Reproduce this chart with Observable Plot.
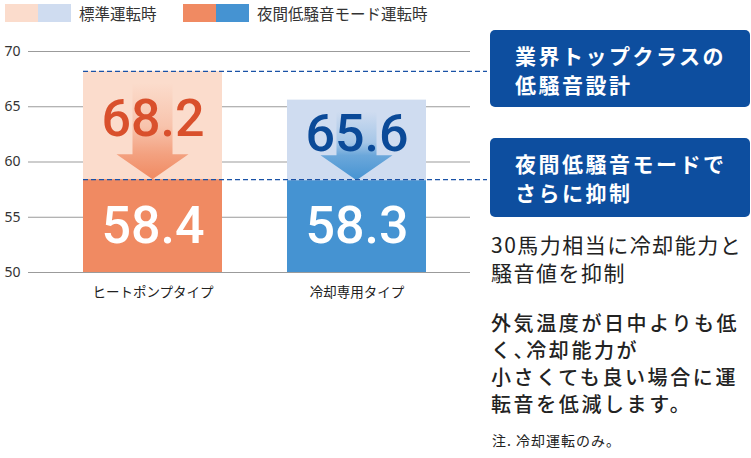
<!DOCTYPE html>
<html><head><meta charset="utf-8">
<script src="https://cdn.jsdelivr.net/npm/d3@7"></script>
<script src="https://cdn.jsdelivr.net/npm/@observablehq/plot@0.6"></script>
<style>
body{margin:0;background:#fff;}
#wrap{position:relative;width:751px;height:458px;overflow:hidden;font-family:"Noto Sans CJK JP",sans-serif;color:#222;}
#chart{position:absolute;left:0;top:0;}
.leg{position:absolute;top:4px;height:18px;display:flex;align-items:center;font-size:15.5px;color:#333;white-space:nowrap;}
.sw{width:33px;height:18px;display:inline-block;}
.lt{margin-left:8px;line-height:18px;}
.box{position:absolute;left:490px;width:260px;background:#0d4e9f;border-radius:5px;color:#fff;font-weight:700;font-size:21px;letter-spacing:2.5px;line-height:28.8px;padding-left:25px;padding-top:11px;box-sizing:border-box;}
.txt{position:absolute;left:491px;font-size:21px;letter-spacing:1.5px;white-space:nowrap;color:#222;}
</style>
</head><body>
<div id="wrap">
  <div id="chart"></div>
  <div class="leg" id="leg1" style="left:5px"></div>
  <div class="leg" id="leg2" style="left:183px"></div>
  <div class="box" id="box1" style="top:30px;height:77px"></div>
  <div class="box" id="box2" style="top:138px;height:79px"></div>
  <div class="txt" id="t1" style="top:230px;line-height:28px"></div>
  <div class="txt" id="t2" style="top:309px;line-height:27px;font-size:20px;letter-spacing:2.6px;font-weight:500"></div>
  <div class="txt" id="t3" style="top:430px;left:492px;font-size:14px;letter-spacing:1px;line-height:20px"></div>
</div>
<script>
// ---- data ----
const categories = ["ヒートポンプタイプ", "冷却専用タイプ"];
const standardValues = [68.2, 65.6];
const nightValues = [58.4, 58.3];
const yTicks = [50, 55, 60, 65, 70];
const yDomain = [50, 70];
const legendLabels = ["標準運転時", "夜間低騒音モード運転時"];
const lightColors = ["#fbdccc", "#cfdcf0"];
const darkColors = ["#f08a62", "#4593d2"];
const labelColors = ["#d9502c", "#0b4a98"];
const box1Lines = ["業界トップクラスの", "低騒音設計"];
const box2Lines = ["夜間低騒音モードで", "さらに抑制"];
const text1Lines = ["30馬力相当に冷却能力と", "騒音値を抑制"];
const text2Lines = ["外気温度が日中よりも低", "く、冷却能力が", "小さくても良い場合に運", "転音を低減します。"];
const noteText = "注. 冷却運転のみ。";

const rows = categories.map((c, i) => ({
  cat: c, std: standardValues[i], night: nightValues[i],
  light: lightColors[i], dark: darkColors[i], labelColor: labelColors[i]
}));

// ---- html texts ----
const setLines = (id, lines) => {
  const el = document.getElementById(id);
  lines.forEach(l => {
    const div = document.createElement("div");
    div.textContent = l;
    if (l.includes("、")) div.style.fontFeatureSettings = '"halt"';
    el.appendChild(div);
  });
};
setLines("box1", box1Lines); setLines("box2", box2Lines);
setLines("t1", text1Lines); setLines("t2", text2Lines);
document.getElementById("t3").textContent = noteText;
document.getElementById("leg1").innerHTML =
  `<span class="sw" style="background:${lightColors[0]}"></span><span class="sw" style="background:${lightColors[1]}"></span><span class="lt">${legendLabels[0]}</span>`;
document.getElementById("leg2").innerHTML =
  `<span class="sw" style="background:${darkColors[0]}"></span><span class="sw" style="background:${darkColors[1]}"></span><span class="lt">${legendLabels[1]}</span>`;

// ---- arrow mark (custom, uses Plot scales) ----
function arrowMark(index, scales, values, dimensions, context) {
  const g = d3.create("svg:g");
  const defs = g.append("defs");
  const bw = typeof scales.x.bandwidth === "function" ? scales.x.bandwidth() : scales.scales.x.bandwidth;
  rows.forEach((d, i) => {
    const cx = scales.x(d.cat) + bw / 2;
    const tip = scales.y(d.night);
    const top = scales.y(d.std) + 12;
    const headH = 25, headHalf = 36, shaftHalf = 20;
    const base = tip - headH;
    const id = "arrowgrad" + i;
    const lg = defs.append("linearGradient").attr("id", id)
      .attr("gradientUnits", "userSpaceOnUse")
      .attr("x1", cx).attr("x2", cx).attr("y1", top).attr("y2", tip);
    lg.append("stop").attr("offset", 0).attr("stop-color", d.dark).attr("stop-opacity", 0);
    lg.append("stop").attr("offset", 0.45).attr("stop-color", d.dark).attr("stop-opacity", 0.3);
    lg.append("stop").attr("offset", (base - top) / (tip - top)).attr("stop-color", d.dark).attr("stop-opacity", 0.72);
    lg.append("stop").attr("offset", 1).attr("stop-color", d.dark).attr("stop-opacity", 1);
    const p = d3.path();
    p.moveTo(cx - shaftHalf, top); p.lineTo(cx + shaftHalf, top); p.lineTo(cx + shaftHalf, base);
    p.lineTo(cx + headHalf, base); p.lineTo(cx, tip); p.lineTo(cx - headHalf, base);
    p.lineTo(cx - shaftHalf, base); p.closePath();
    g.append("path").attr("d", p.toString()).attr("fill", `url(#${id})`);
  });
  return g.node();
}

const chart = Plot.plot({
  width: 751, height: 458,
  marginLeft: 28, marginRight: 281, marginTop: 51, marginBottom: 186,
  x: {domain: categories, range: [83, 426], paddingInner: 0.32, paddingOuter: 0, label: null},
  y: {domain: yDomain, label: null},
  color: {type: "identity"},
  style: {fontFamily: "'Noto Sans CJK JP', sans-serif", fontSize: "13.5px", color: "#222", background: "transparent"},
  marks: [
    Plot.ruleY(yTicks, {stroke: "#9b9b9b", strokeWidth: 1}),
    Plot.axisY(yTicks, {tickSize: 0, tickPadding: 8, fontSize: 14, fill: "#333", fontFamily: "'Noto Sans', sans-serif", label: null}),
    Plot.axisX({tickSize: 0, tickPadding: 15, fontSize: 13.5, fill: "#222", label: null}),
    Plot.barY(rows, {x: "cat", y1: yDomain[0], y2: "std", fill: "light"}),
    Plot.barY(rows, {x: "cat", y1: yDomain[0], y2: "night", fill: "dark"}),
    arrowMark,
    Plot.ruleY([d3.max(standardValues), d3.max(nightValues)], {stroke: "#1a52a6", strokeWidth: 1.3, strokeDasharray: "5,3", insetLeft: 55, insetRight: -17}),
    Plot.text(rows, {x: "cat", y: d => (d.std + d.night) / 2, dy: -6, text: d => d.std.toFixed(1), fill: "labelColor", fontSize: 52, fontWeight: 500, fontFamily: "Roboto", letterSpacing: "-3px"}),
    Plot.text(rows, {x: "cat", y: d => (yDomain[0] + d.night) / 2, text: d => d.night.toFixed(1), fill: "white", fontSize: 52, fontWeight: 500, fontFamily: "Roboto", letterSpacing: "-3px"})
  ]
});
document.getElementById("chart").appendChild(chart);
</script>
</body></html>
